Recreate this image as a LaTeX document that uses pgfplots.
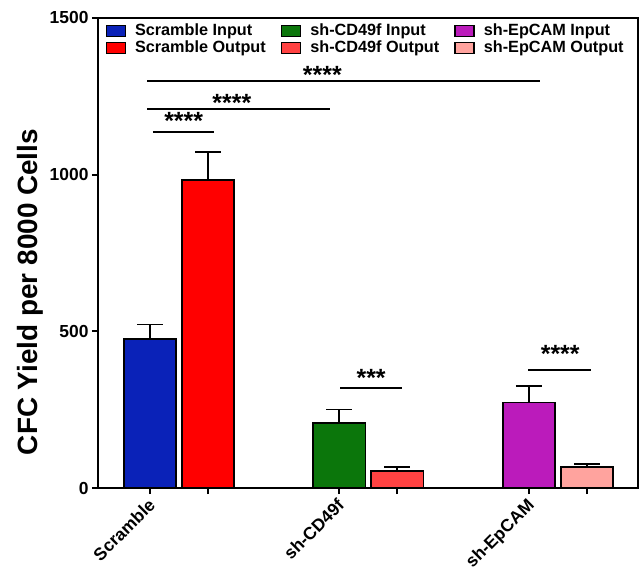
\documentclass[border=0pt]{standalone}
\usepackage{pgfplots}
\pgfplotsset{compat=1.18}
\usepackage{fontspec}
\setmainfont{Liberation Sans}
\definecolor{cBlue}{HTML}{0A22B8}
\definecolor{cRed}{HTML}{FF0000}
\definecolor{cGreen}{HTML}{0B760B}
\definecolor{cRedB}{HTML}{FF4242}
\definecolor{cPurple}{HTML}{BB1BBB}
\definecolor{cPink}{HTML}{FFA39E}
\pgfplotsset{
  mybar/.style={ybar, bar width=0.9, bar shift=0pt, draw=black, line width=1.6bp, fill=#1,
    legend image code/.code={\draw[##1, line width=1.5bp] (0bp,-5.5bp) rectangle (19bp,5.5bp);},
    error bars/.cd, y dir=plus, y explicit,
    error bar style={line width=1.5bp, black},
    error mark options={rotate=90, mark size=13bp, line width=1.5bp, black}},
}
\tikzset{stars/.style={anchor=base, font=\bfseries\fontsize{25}{25}\selectfont, inner sep=0pt}}
\begin{document}
\begin{tikzpicture}
\begin{axis}[
  scale only axis, width=540bp, height=470bp,
  xmin=-0.897, xmax=8.41, ymin=0, ymax=1500,
  ytick={0,500,1000,1500},
  xtick={0,3.26,6.53},
  xticklabels={Scramble,sh-CD49f,sh-EpCAM},
  extra x ticks={1,4.26,7.53},
  extra x tick labels={},
  tick pos=left,
  x tick label style={rotate=45, anchor=north east, yshift=3bp, xshift=-1bp, font=\bfseries\fontsize{17.5}{17.5}\selectfont},
  y tick label style={font=\bfseries\fontsize{17.5}{17.5}\selectfont},
  /pgf/number format/assume math mode=true,
  /pgf/number format/1000 sep={},
  tick align=outside, major tick length=6bp, tick style={line width=2bp, black},
  axis line style={line width=2.5bp},
  ylabel={CFC Yield per 8000 Cells},
  ylabel style={font=\bfseries\fontsize{28}{28}\selectfont, at={(ticklabel cs:0.417)}},
  legend columns=3,
  legend cell align=left,
  legend style={draw=none, fill=none, at={(0.008,0.995)}, anchor=north west,
    font=\bfseries\fontsize{16.3}{16.3}\selectfont,
    nodes={inner sep=1bp, text height=11.5bp, text depth=3.5bp},
    /tikz/every odd column/.append style={column sep=8bp},
    /tikz/every even column/.append style={column sep=14bp}},
]
\addplot[mybar=cBlue] coordinates {(0,475) +- (0,47)};
\addlegendentry{Scramble Input}
\addplot[mybar=cGreen] coordinates {(3.26,208) +- (0,43)};
\addlegendentry{sh-CD49f Input}
\addplot[mybar=cPurple] coordinates {(6.53,273) +- (0,52)};
\addlegendentry{sh-EpCAM Input}
\addplot[mybar=cRed] coordinates {(1,983) +- (0,89)};
\addlegendentry{Scramble Output}
\addplot[mybar=cRedB] coordinates {(4.26,54) +- (0,13)};
\addlegendentry{sh-CD49f Output}
\addplot[mybar=cPink] coordinates {(7.53,67) +- (0,10)};
\addlegendentry{sh-EpCAM Output}
% significance lines
\addplot[black, line width=2bp, forget plot] coordinates {(0.05,1137) (1.10,1137)};
\addplot[black, line width=2bp, forget plot] coordinates {(-0.05,1211) (3.10,1211)};
\addplot[black, line width=2bp, forget plot] coordinates {(-0.05,1299) (6.72,1299)};
\addplot[black, line width=2bp, forget plot] coordinates {(3.28,319) (4.34,319)};
\addplot[black, line width=2bp, forget plot] coordinates {(6.52,377) (7.60,377)};
\node[stars] at (axis cs:0.58,1143) {****};
\node[stars] at (axis cs:1.41,1200) {****};
\node[stars] at (axis cs:2.97,1292) {****};
\node[stars] at (axis cs:3.81,323) {***};
\node[stars] at (axis cs:7.07,399) {****};
\coordinate (BL) at (rel axis cs:0,0);
\coordinate (TR) at (rel axis cs:1,1);
\end{axis}
\pgfresetboundingbox
\path ([shift={(-98bp,-83bp)}]BL) rectangle ([shift={(1bp,18bp)}]TR);
\end{tikzpicture}
\end{document}
